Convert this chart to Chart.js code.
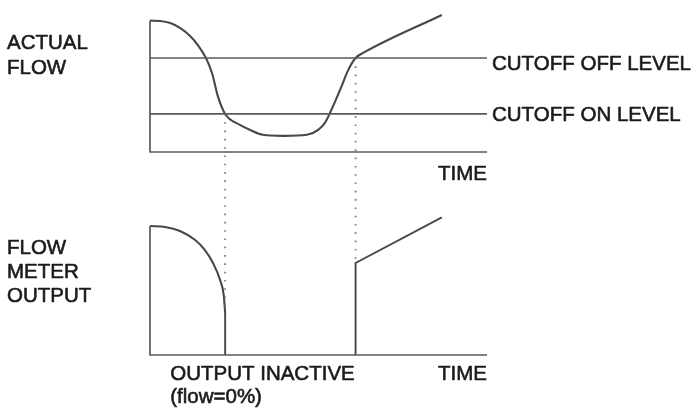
<!DOCTYPE html>
<html lang="en">
<head>
  <meta charset="UTF-8">
  <title>Low flow cutoff</title>
  <script src="https://cdn.jsdelivr.net/npm/chart.js"></script>
  <style>
    html, body { margin: 0; padding: 0; background: #fff; }
    canvas { display: block; }
  </style>
</head>
<body>
  <canvas id="cutoffChart" width="697" height="410"></canvas>

  <script>
    // cutoff thresholds (same units as the flow)
    const OFF_LEVEL = 71.2;
    const ON_LEVEL = 28.8;
    const AXIS_END = 100;

    // actual flow over time
    const flowTime  = [0, 3, 6, 9, 11.9, 14.2, 16.6, 18.4, 20.2, 22.3, 26.7, 29.7, 33.5, 39.5, 46.6, 49.9, 51.9, 53.4, 56.4, 58.8, 61, 63.8, 86.6];
    const flowValue = [99.5, 99.2, 97.7, 93.9, 87.9, 81, 71.2, 59.8, 41.7, 28.8, 20.5, 16.7, 13, 12.2, 13, 16.7, 22, 29.5, 47, 62, 71.2, 75.8, 103.8];

    // flow meter output before the cutoff switches on
    const outTime  = [0, 4.5, 8.9, 13.4, 16.3, 18.7, 20.8, 21.9, 22.3];
    const outValue = [97.7, 97, 93.9, 87.1, 79.5, 69.7, 56.8, 45, 31.8];

    // flow meter output after the cutoff switches off again
    const resumeTime  = [61, 61, 86.6];
    const resumeValue = [0, 69.7, 104.3];

    // layout of the two panels on the canvas
    const X_LEFT = 150, X_UNIT = 3.37;       // px of t=0, px per time unit
    const OUT_BASE = 355, Y_UNIT = 1.32;     // px of output zero, px per flow unit
    const PANEL_SHIFT = 153.8;               // flow panel sits this many units above the output panel

    const W = 697, H = 410;
    const xMin = -X_LEFT / X_UNIT, xMax = (W - X_LEFT) / X_UNIT;
    const outMin = (OUT_BASE - H) / Y_UNIT, outMax = OUT_BASE / Y_UNIT;

    const pts = (xs, ys) => xs.map((x, i) => ({ x: x, y: ys[i] }));
    const LINE = '#474747';
    const AXIS = '#5a5a5a';
    const DOTS = '#7a7a7a';

    function straight(data, axis, extra) {
      return Object.assign({
        data: data, yAxisID: axis, borderColor: AXIS, borderWidth: 1.7,
        pointRadius: 0, tension: 0, fill: false
      }, extra || {});
    }

    const datasets = [
      // flow panel frame and thresholds
      straight([{x: 0, y: 99.5}, {x: 0, y: 0}, {x: AXIS_END, y: 0}], 'flow'),
      straight([{x: 0, y: OFF_LEVEL}, {x: AXIS_END, y: OFF_LEVEL}], 'flow'),
      straight([{x: 0, y: ON_LEVEL}, {x: AXIS_END, y: ON_LEVEL}], 'flow'),
      // output panel frame
      straight([{x: 0, y: 97.7}, {x: 0, y: 0}, {x: AXIS_END, y: 0}], 'out'),
      // dotted guides where the cutoff switches
      straight([{x: flowTime[9], y: ON_LEVEL}, {x: outTime[8], y: outValue[8] - PANEL_SHIFT}], 'flow',
        { borderColor: DOTS, borderWidth: 1.8, borderDash: [1.6, 6.7] }),
      straight([{x: flowTime[20], y: OFF_LEVEL}, {x: resumeTime[1], y: resumeValue[1] - PANEL_SHIFT}], 'flow',
        { borderColor: DOTS, borderWidth: 1.8, borderDash: [1.6, 6.7] }),
      // actual flow
      {
        data: pts(flowTime, flowValue), yAxisID: 'flow', borderColor: LINE, borderWidth: 2.1,
        pointRadius: 0, cubicInterpolationMode: 'monotone', fill: false
      },
      // meter output
      {
        data: pts(outTime, outValue), yAxisID: 'out', borderColor: LINE, borderWidth: 2.1,
        pointRadius: 0, cubicInterpolationMode: 'monotone', fill: false
      },
      straight([{x: outTime[8], y: outValue[8]}, {x: outTime[8], y: 0}], 'out', { borderColor: LINE, borderWidth: 1.9 }),
      straight(pts(resumeTime, resumeValue), 'out', { borderColor: LINE, borderWidth: 1.9 })
    ];

    // text labels around the two panels
    const labelPlugin = {
      id: 'labels',
      afterDraw(chart) {
        const ctx = chart.ctx;
        const sx = chart.scales.x, sf = chart.scales.flow, so = chart.scales.out;
        const endX = sx.getPixelForValue(AXIS_END);
        ctx.save();
        ctx.fillStyle = '#1b1b1b';
        ctx.strokeStyle = '#1b1b1b';
        ctx.lineWidth = 0.6;
        ctx.lineJoin = 'round';
        ctx.font = '20.5px "Liberation Sans", Arial, sans-serif';
        ctx.textBaseline = 'alphabetic';

        const put = (txt, x, y) => { ctx.fillText(txt, x, y); ctx.strokeText(txt, x, y); };

        ctx.textAlign = 'left';
        put('ACTUAL', 7, 49);
        put('FLOW', 7, 74);
        put('FLOW', 7, 254);
        put('METER', 7, 278);
        put('OUTPUT', 7, 302);

        put('CUTOFF OFF LEVEL', endX + 5, sf.getPixelForValue(OFF_LEVEL) + 12);
        put('CUTOFF ON LEVEL', endX + 5, sf.getPixelForValue(ON_LEVEL) + 7);

        const insetX = sx.getPixelForValue(6);
        put('OUTPUT INACTIVE', insetX, so.getPixelForValue(0) + 25);
        put('(flow=0%)', insetX, so.getPixelForValue(0) + 48);

        ctx.textAlign = 'right';
        put('TIME', endX, sf.getPixelForValue(0) + 28);
        put('TIME', endX, so.getPixelForValue(0) + 25);
        ctx.restore();
      }
    };

    new Chart(document.getElementById('cutoffChart'), {
      type: 'line',
      data: { datasets: datasets },
      options: {
        responsive: false,
        animation: false,
        layout: { padding: 0 },
        scales: {
          x: { type: 'linear', min: xMin, max: xMax, display: false },
          flow: { type: 'linear', position: 'left', min: outMin - PANEL_SHIFT, max: outMax - PANEL_SHIFT, display: false },
          out: { type: 'linear', position: 'left', min: outMin, max: outMax, display: false }
        },
        plugins: {
          legend: { display: false },
          tooltip: { enabled: false }
        }
      },
      plugins: [labelPlugin]
    });
  </script>
</body>
</html>
